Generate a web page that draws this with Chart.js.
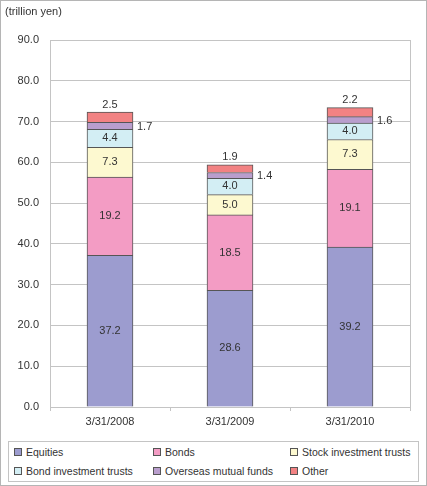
<!DOCTYPE html>
<html>
<head>
<meta charset="utf-8">
<script src="https://cdn.jsdelivr.net/npm/chart.js@4"></script>
<style>
    html, body { margin: 0; padding: 0; background: #fff; }
    #frame {
        position: relative; width: 427px; height: 486px;
        box-sizing: border-box; border: 1px solid #b5b5b5;
        font-family: "Liberation Sans", Arial, sans-serif; color: #333;
    }
    #unit { position: absolute; left: 4px; top: 4px; font-size: 11px; }
    #wrap { position: absolute; left: 0; top: 0; width: 427px; height: 436px; }
    #legend {
        position: absolute; left: 7px; top: 440px; width: 411px; height: 41px;
        box-sizing: border-box; border: 1px solid #c4c4c4; font-size: 10.5px;
    }
    .item { position: absolute; white-space: nowrap; line-height: 13px; }
    .sw {
        display: inline-block; width: 6px; height: 6px; border: 1px solid #555;
        margin-right: 4px; vertical-align: 0px;
    }
</style>
</head>
<body>
<div id="frame">
    <div id="wrap"><canvas id="chart"></canvas></div>
    <div id="unit">(trillion yen)</div>
    <div id="legend"></div>
</div>
<script>
// =============================================================
// DATA
// =============================================================
const dates     = ["3/31/2008", "3/31/2009", "3/31/2010"];
const seriesNames = ["Equities", "Bonds", "Stock investment trusts",
                     "Bond investment trusts", "Overseas mutual funds", "Other"];
const equities  = [37.2, 28.6, 39.2];
const bonds     = [19.2, 18.5, 19.1];
const stockTr   = [7.3, 5.0, 7.3];
const bondTr    = [4.4, 4.0, 4.0];
const overseas  = [1.7, 1.4, 1.6];
const other     = [2.5, 1.9, 2.2];
const colors    = ["#9c9ccf", "#f39cc4", "#fdf9d0", "#d3eef4", "#b99ecd", "#f28283"];

const values = [equities, bonds, stockTr, bondTr, overseas, other];

// =============================================================
// LABEL PLUGIN
// =============================================================
const labelPlugin = {
    id: "segLabels",
    afterDatasetsDraw(chart) {
        const ctx = chart.ctx;
        ctx.save();
        ctx.font = "11px 'Liberation Sans', Arial, sans-serif";
        ctx.fillStyle = "#333";
        chart.data.datasets.forEach((ds, di) => {
            chart.getDatasetMeta(di).data.forEach((bar, i) => {
                const txt = ds.data[i].toFixed(1);
                const mid = (bar.y + bar.base) / 2;
                if (di === 4) {
                    ctx.textAlign = "left"; ctx.textBaseline = "middle";
                    ctx.fillText(txt, bar.x + bar.width / 2 + 4, mid + 1);
                } else if (di === 5) {
                    ctx.textAlign = "center"; ctx.textBaseline = "bottom";
                    ctx.fillText(txt, bar.x, bar.y - 2);
                } else {
                    ctx.textAlign = "center"; ctx.textBaseline = "middle";
                    ctx.fillText(txt, bar.x, mid);
                }
            });
        });
        // plot frame right side
        const a = chart.chartArea;
        ctx.strokeStyle = "#c4c4c4"; ctx.lineWidth = 1;
        ctx.beginPath();
        ctx.moveTo(Math.round(a.right) + 0.5, a.top);
        ctx.lineTo(Math.round(a.right) + 0.5, a.bottom);
        ctx.stroke();
        ctx.restore();
    }
};

// =============================================================
// CHART
// =============================================================
new Chart(document.getElementById("chart"), {
    type: "bar",
    data: {
        labels: dates,
        datasets: seriesNames.map((name, i) => ({
            label: name,
            data: values[i],
            backgroundColor: colors[i],
            borderColor: "#555",
            borderWidth: 1,
            barThickness: 46
        }))
    },
    options: {
        responsive: true,
        maintainAspectRatio: false,
        animation: false,
        layout: { padding: { top: 39, right: 18, left: 0, bottom: 0 } },
        plugins: { legend: { display: false }, tooltip: { enabled: false } },
        scales: {
            x: {
                stacked: true,
                grid: { offset: true, drawOnChartArea: false, color: "#c4c4c4", tickLength: 4 },
                border: { color: "#c4c4c4" },
                ticks: { color: "#333", font: { size: 11, family: "'Liberation Sans', Arial, sans-serif" }, padding: 4 },
                afterFit: s => { s.height = 30; }
            },
            y: {
                stacked: true,
                min: 0, max: 90,
                ticks: {
                    stepSize: 10, color: "#333", padding: 11,
                    font: { size: 11, family: "'Liberation Sans', Arial, sans-serif" },
                    callback: v => v.toFixed(1)
                },
                grid: { color: "#c4c4c4", drawTicks: false },
                border: { color: "#c4c4c4" },
                afterFit: s => { s.width = 49; }
            }
        }
    },
    plugins: [labelPlugin]
});

// =============================================================
// LEGEND
// =============================================================
const legendEl = document.getElementById("legend");
const colX = [5, 144, 281];
seriesNames.forEach((name, i) => {
    const d = document.createElement("div");
    d.className = "item";
    d.style.left = colX[i % 3] + "px";
    d.style.top  = (i < 3 ? 4 : 23) + "px";
    d.innerHTML = `<span class="sw" style="background:${colors[i]}"></span>${name}`;
    legendEl.appendChild(d);
});
</script>
</body>
</html>
